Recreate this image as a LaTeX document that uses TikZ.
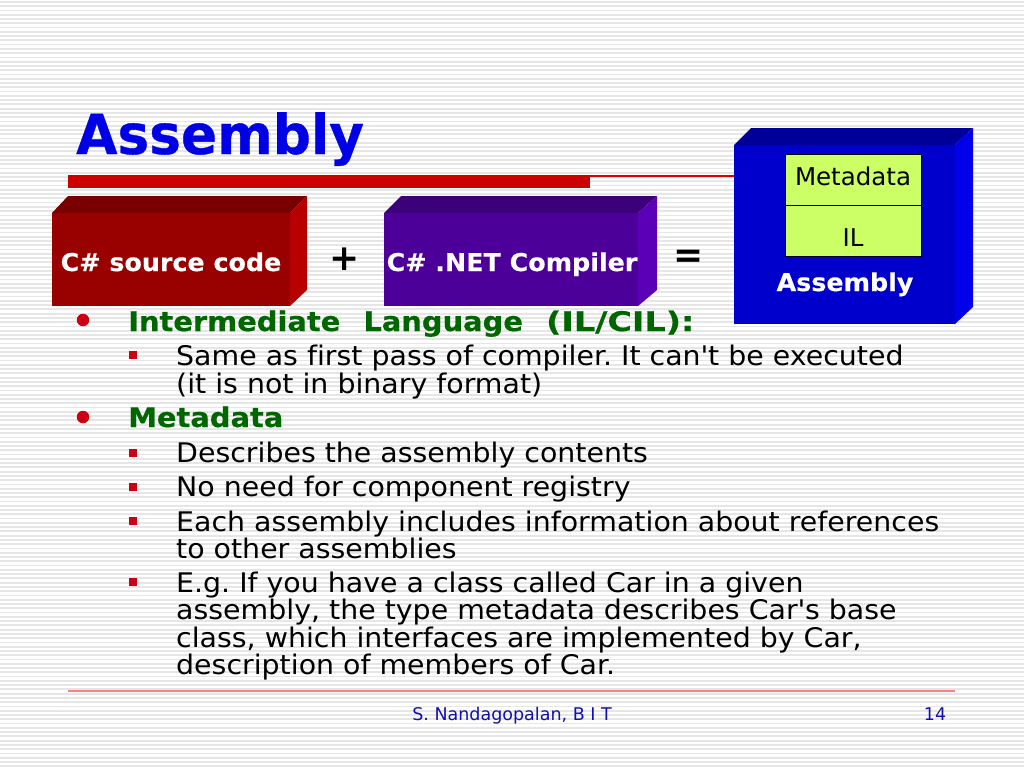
\documentclass[tikz,border=0pt]{standalone}
\usepackage{fontspec}
\setmainfont{DejaVu Sans}
\newfontfamily\titlefont[FakeStretch=0.97,FakeBold=0.6]{DejaVu Sans Bold}
\newfontfamily\bodyfont[FakeStretch=1.052,Ligatures=NoCommon]{DejaVu Sans}
\newfontfamily\headfont[FakeStretch=1.07,FakeBold=0.5,WordSpace=2.3]{DejaVu Sans Bold}
\newfontfamily\capsfont[FakeStretch=1.24,FakeBold=0.5]{DejaVu Sans Bold}
\newfontfamily\labelfont[FakeStretch=1.035,FakeBold=0.3]{DejaVu Sans Bold}
\newfontfamily\footfont{DejaVu Sans}
\definecolor{barred}{HTML}{CC0000}
\definecolor{thinred}{HTML}{E00000}
\definecolor{bulletred}{HTML}{CC0011}
\definecolor{headgreen}{HTML}{006600}
\definecolor{titleblue}{HTML}{0000E6}
\definecolor{footblue}{HTML}{1010B0}
\definecolor{stripe}{HTML}{E6E6E6}
\definecolor{limegreen}{HTML}{CCFF66}
\definecolor{sourcefront}{HTML}{990000}
\definecolor{sourcetop}{HTML}{7A0000}
\definecolor{sourceside}{HTML}{B80000}
\definecolor{compilerfront}{HTML}{4C0099}
\definecolor{compilertop}{HTML}{3C007A}
\definecolor{compilerside}{HTML}{5C00B8}
\definecolor{assemblyfront}{HTML}{0000CC}
\definecolor{assemblytop}{HTML}{000099}
\definecolor{assemblyside}{HTML}{0000EB}
\tikzset{
  headline/.style={anchor=base west,inner sep=0pt,text=headgreen,font=\headfont\fontsize{27}{27}\selectfont},
  bodyline/.style={anchor=base west,inner sep=0pt,text=black,font=\bodyfont\frenchspacing\fontsize{27}{27}\selectfont},
  boxlabel/.style={anchor=base,inner sep=0pt,text=white,font=\labelfont\fontsize{24.5}{24.5}\selectfont},
  greenlabel/.style={anchor=base,inner sep=0pt,text=black,font=\fontsize{24.5}{24.5}\selectfont},
  signlabel/.style={inner sep=0pt,text=black,font=\bfseries\fontsize{36}{36}\selectfont},
  footlabel/.style={anchor=base,inner sep=0pt,text=footblue,font=\footfont\fontsize{17.5}{17.5}\selectfont},
  roundbullet/.style={circle,fill=bulletred,inner sep=0pt,minimum size=12.5pt},
  squarebullet/.style={rectangle,fill=bulletred,inner sep=0pt,minimum size=8pt},
}
\begin{document}
\begin{tikzpicture}[x=1pt,y=-1pt]
  \useasboundingbox (0,0) rectangle (1024,768);
  \fill[white] (0,0) rectangle (1024,768);
  % striped background
  \foreach \i in {0,...,179}
    \fill[stripe] (0,{\i*4.27+1}) rectangle (1024,{\i*4.27+2.8});

  % title and rule
  \node[anchor=base west,inner sep=0pt,text=titleblue,font=\titlefont\fontsize{55}{55}\selectfont] (title) at (76,154) {Assembly};
  \fill[barred] (68,175) rectangle (590,188);
  \fill[thinred] (590,175) rectangle (734,177);

  % source code block
  \fill[sourcetop] (52,213) -- (68,196) -- (307,196) -- (290,213) -- cycle;
  \fill[sourceside] (290,213) -- (307,196) -- (307,290) -- (290,306) -- cycle;
  \fill[sourcefront] (52,213) rectangle (290,306);
  \node[boxlabel] (source) at (171,271) {C\# source code};

  % compiler block
  \fill[compilertop] (384,213) -- (401,196) -- (657,196) -- (638,213) -- cycle;
  \fill[compilerside] (638,213) -- (657,196) -- (657,290) -- (638,306) -- cycle;
  \fill[compilerfront] (384,213) rectangle (638,306);
  \node[boxlabel] (compiler) at (512,271) {C\# .NET Compiler};

  \node[signlabel] (plus) at (345,259) {+};
  \node[signlabel] (equals) at (689,259) {=};

  % assembly block
  \fill[assemblytop] (734,145) -- (751,128) -- (973,128) -- (955,145) -- cycle;
  \fill[assemblyside] (955,145) -- (973,128) -- (973,307) -- (955,324) -- cycle;
  \fill[assemblyfront] (734,145) rectangle (955,324);
  \draw[fill=limegreen,line width=0.8pt] (785,154) rectangle (921,256);
  \draw[line width=0.8pt] (785,205) -- (921,205);
  \node[greenlabel] (metadata) at (853,185) {Metadata};
  \node[greenlabel] (il) at (853,246) {IL};
  \node[boxlabel] (assembly) at (845,291) {Assembly};

  % bullets
  \node[roundbullet] (b1) at (83,320) {};
  \node[roundbullet] (b2) at (83,417) {};
  \node[squarebullet] (s1) at (133,355) {};
  \node[squarebullet] (s2) at (133,453) {};
  \node[squarebullet] (s3) at (133,487) {};
  \node[squarebullet] (s4) at (133,521) {};
  \node[squarebullet] (s5) at (133,582) {};

  % text
  \node[headline] (h1) at (128,331) {Intermediate Language {\capsfont\fontsize{27}{27}\selectfont (IL/CIL):}};
  \node[bodyline] (l1) at (176,365) {Same as first pass of compiler. It can\textquotesingle t be executed};
  \node[bodyline] (l2) at (176,393) {(it is not in binary format)};
  \node[headline] (h2) at (128,427) {Metadata};
  \node[bodyline] (l3) at (176,462) {Describes the assembly contents};
  \node[bodyline] (l4) at (176,496) {No need for component registry};
  \node[bodyline] (l5) at (176,531) {Each assembly includes information about references};
  \node[bodyline] (l6) at (176,558) {to other assemblies};
  \node[bodyline] (l7) at (176,592) {E.g. If you have a class called Car in a given};
  \node[bodyline] (l8) at (176,619) {assembly, the type metadata describes Car\textquotesingle s base};
  \node[bodyline] (l9) at (176,647) {class, which interfaces are implemented by Car,};
  \node[bodyline] (l10) at (176,674) {description of members of Car.};

  % footer
  \fill[red!50!white] (68,690.3) rectangle (955,691.7);
  \node[footlabel] (author) at (512,720) {S. Nandagopalan, B I T};
  \node[footlabel] (page) at (935,720) {14};
\end{tikzpicture}
\end{document}
